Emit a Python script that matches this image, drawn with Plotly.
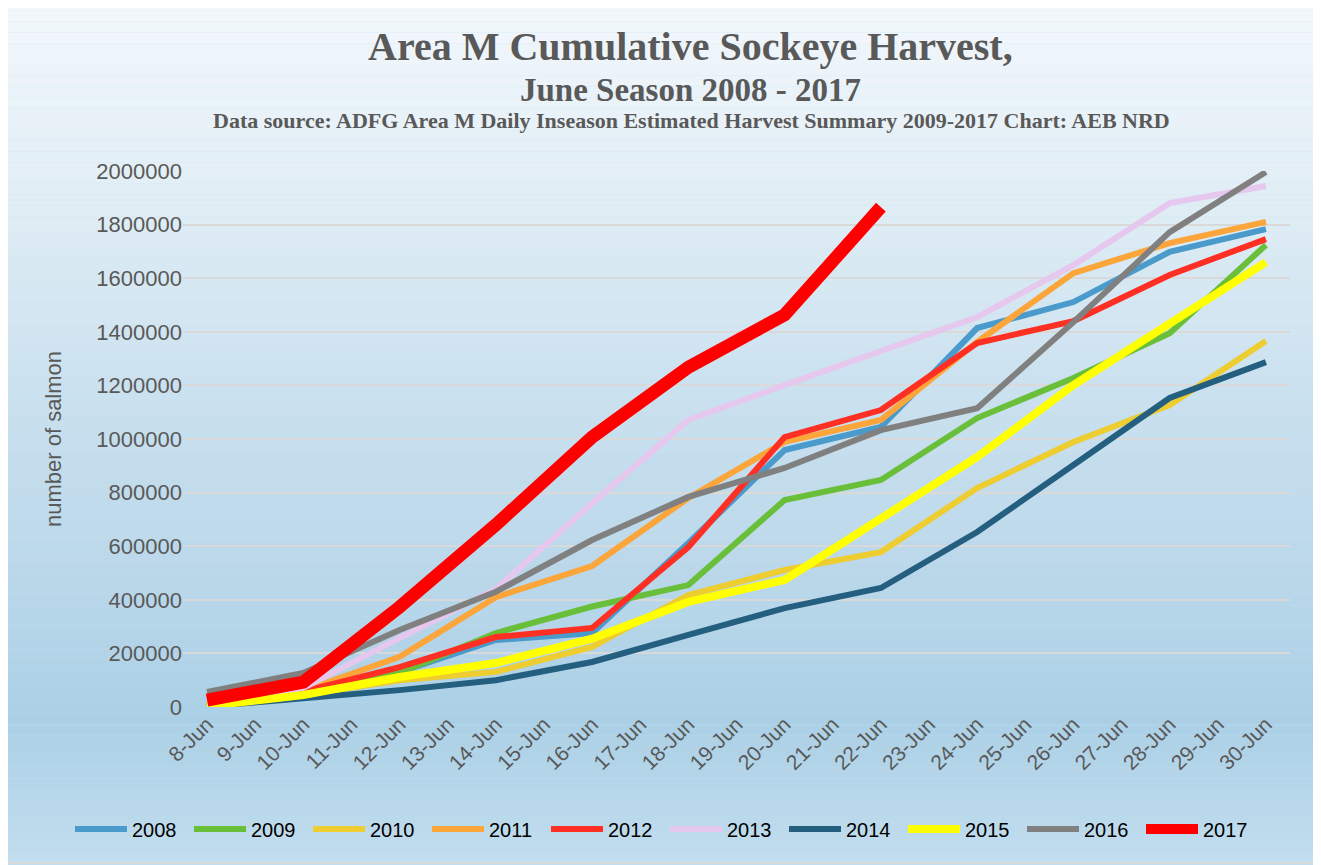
import plotly.graph_objects as go

# ---- data ----
categories = ["8-Jun", "9-Jun", "10-Jun", "11-Jun", "12-Jun", "13-Jun", "14-Jun", "15-Jun",
              "16-Jun", "17-Jun", "18-Jun", "19-Jun", "20-Jun", "21-Jun", "22-Jun", "23-Jun",
              "24-Jun", "25-Jun", "26-Jun", "27-Jun", "28-Jun", "29-Jun", "30-Jun"]
point_days = ["8-Jun", "10-Jun", "12-Jun", "14-Jun", "16-Jun", "18-Jun", "20-Jun",
              "22-Jun", "24-Jun", "26-Jun", "28-Jun", "30-Jun"]

h2008 = [5000, 55000, 130000, 250000, 276000, 612000, 959000, 1045000, 1414000, 1511000, 1698000, 1783000]
h2009 = [5000, 55000, 127000, 276000, 375000, 455000, 772000, 847000, 1078000, 1228000, 1395000, 1724000]
h2010 = [3000, 45000, 100000, 131000, 224000, 418000, 511000, 578000, 817000, 989000, 1127000, 1366000]
h2011 = [5000, 60000, 187000, 410000, 526000, 780000, 989000, 1071000, 1362000, 1619000, 1731000, 1810000]
h2012 = [5000, 58000, 149000, 261000, 295000, 597000, 1007000, 1108000, 1358000, 1440000, 1612000, 1746000]
h2013 = [5000, 71000, 257000, 440000, 760000, 1071000, 1201000, 1330000, 1455000, 1649000, 1880000, 1944000]
h2014 = [2000, 30000, 63000, 100000, 168000, 269000, 369000, 444000, 653000, 903000, 1153000, 1287000]
h2015 = [3000, 45000, 112000, 164000, 255000, 392000, 474000, 705000, 933000, 1201000, 1433000, 1660000]
h2016 = [56000, 127000, 287000, 430000, 623000, 784000, 892000, 1033000, 1115000, 1436000, 1772000, 1996000]
h2017 = [26000, 93000, 373000, 680000, 1007000, 1268000, 1463000, 1865000]

years = ["2008", "2009", "2010", "2011", "2012", "2013", "2014", "2015", "2016", "2017"]
series = [h2008, h2009, h2010, h2011, h2012, h2013, h2014, h2015, h2016, h2017]
colors = ["#4a9bcb", "#6abf3a", "#edcd2f", "#fca53a", "#ff2f23",
          "#e6c8ee", "#245f80", "#ffff00", "#808080", "#ff0000"]
widths = [6, 6, 6, 6, 6, 6, 6, 8, 6, 13]

y_ticks = [0, 200000, 400000, 600000, 800000, 1000000, 1200000, 1400000, 1600000, 1800000, 2000000]

fig = go.Figure()
for yr, vals, col, w in zip(years, series, colors, widths):
    fig.add_trace(go.Scatter(
        x=point_days[:len(vals)], y=vals, name=yr, mode="lines",
        line=dict(color=col, width=w),
    ))

# ---- background gradient (paper) ----
stops = [(0.0, (243, 248, 252)), (0.2, (227, 239, 246)), (0.45, (203, 225, 239)),
         (0.7, (183, 214, 233)), (0.83, (171, 208, 230)), (1.0, (194, 222, 238))]

def col_at(t):
    for (t0, c0), (t1, c1) in zip(stops[:-1], stops[1:]):
        if t0 <= t <= t1:
            f = (t - t0) / (t1 - t0) if t1 > t0 else 0
            return "rgb(%d,%d,%d)" % tuple(round(a + (b - a) * f) for a, b in zip(c0, c1))
    return "rgb(%d,%d,%d)" % stops[-1][1]

OFF = 8  # default page body margin
W, H = 1321, 865
# plot area in page pixels: x 183..1290, y 171..707
L, T = 183 - OFF, 171 - OFF
R = W - (1290 - OFF)
B = H - (707 - OFF)
PW, PH = W - L - R, H - T - B

def px(x):  # page pixel x -> paper
    return (x - OFF - L) / PW

def py(y):  # page pixel y -> paper
    return (H - B - (y - OFF)) / PH

shapes = []
n = 80
for i in range(n):
    t = (i + 0.5) / n
    shapes.append(dict(type="rect", xref="paper", yref="paper", layer="below",
                       x0=px(0), x1=px(W + 10), y0=py(H * (i + 1) / n), y1=py(H * i / n),
                       line=dict(width=0), fillcolor=col_at(t)))
shapes.append(dict(type="rect", xref="paper", yref="paper", layer="below",
                   x0=px(6), x1=px(W - 3), y0=py(H - 2), y1=py(6),
                   line=dict(color="#d9d9d9", width=2), fillcolor="rgba(0,0,0,0)"))

fig.update_layout(
    width=W, height=H,
    margin=dict(l=L, r=R, t=T, b=B),
    paper_bgcolor="#c6e0ef",
    plot_bgcolor="rgba(0,0,0,0)",
    showlegend=True,
    legend=dict(orientation="h", x=px(70), xanchor="left", y=py(829), yanchor="middle",
                font=dict(family="Liberation Sans", size=20, color="#000000"),
                itemwidth=52, entrywidth=52, bgcolor="rgba(0,0,0,0)", traceorder="normal"),
    xaxis=dict(type="category", categoryorder="array", categoryarray=categories,
               range=[-0.5, 22.5], tickangle=-45, showgrid=False, automargin=False,
               tickfont=dict(family="Liberation Sans", size=21, color="#595959"),
               showline=False, ticks="", zeroline=False),
    yaxis=dict(range=[0, 2000000], tickvals=y_ticks, ticktext=[str(v) for v in y_ticks],
               showgrid=True, gridcolor="#d9d9d9", gridwidth=2, zeroline=False,
               automargin=False,
               tickfont=dict(family="Liberation Sans", size=22, color="#595959"),
               ticks="", ticklen=0, showline=False,
               title=dict(text="number of salmon", standoff=28,
                          font=dict(family="Liberation Sans", size=22, color="#595959"))),
    shapes=shapes,
    annotations=[
        dict(text="<b>Area M Cumulative Sockeye Harvest,</b>", xref="paper", yref="paper",
             x=px(690), y=py(46), xanchor="center", yanchor="middle",
             showarrow=False, font=dict(family="Liberation Serif", size=40, color="#595959")),
        dict(text="<b>June Season 2008 - 2017</b>", xref="paper", yref="paper",
             x=px(690), y=py(90), xanchor="center", yanchor="middle",
             showarrow=False, font=dict(family="Liberation Serif", size=33, color="#595959")),
        dict(text="<b>Data source: ADFG Area M Daily Inseason Estimated Harvest Summary 2009-2017 Chart: AEB NRD</b>",
             xref="paper", yref="paper",
             x=px(691), y=py(121), xanchor="center", yanchor="middle",
             showarrow=False, font=dict(family="Liberation Serif", size=22, color="#595959")),
    ],
)

fig.write_html("out.html")
